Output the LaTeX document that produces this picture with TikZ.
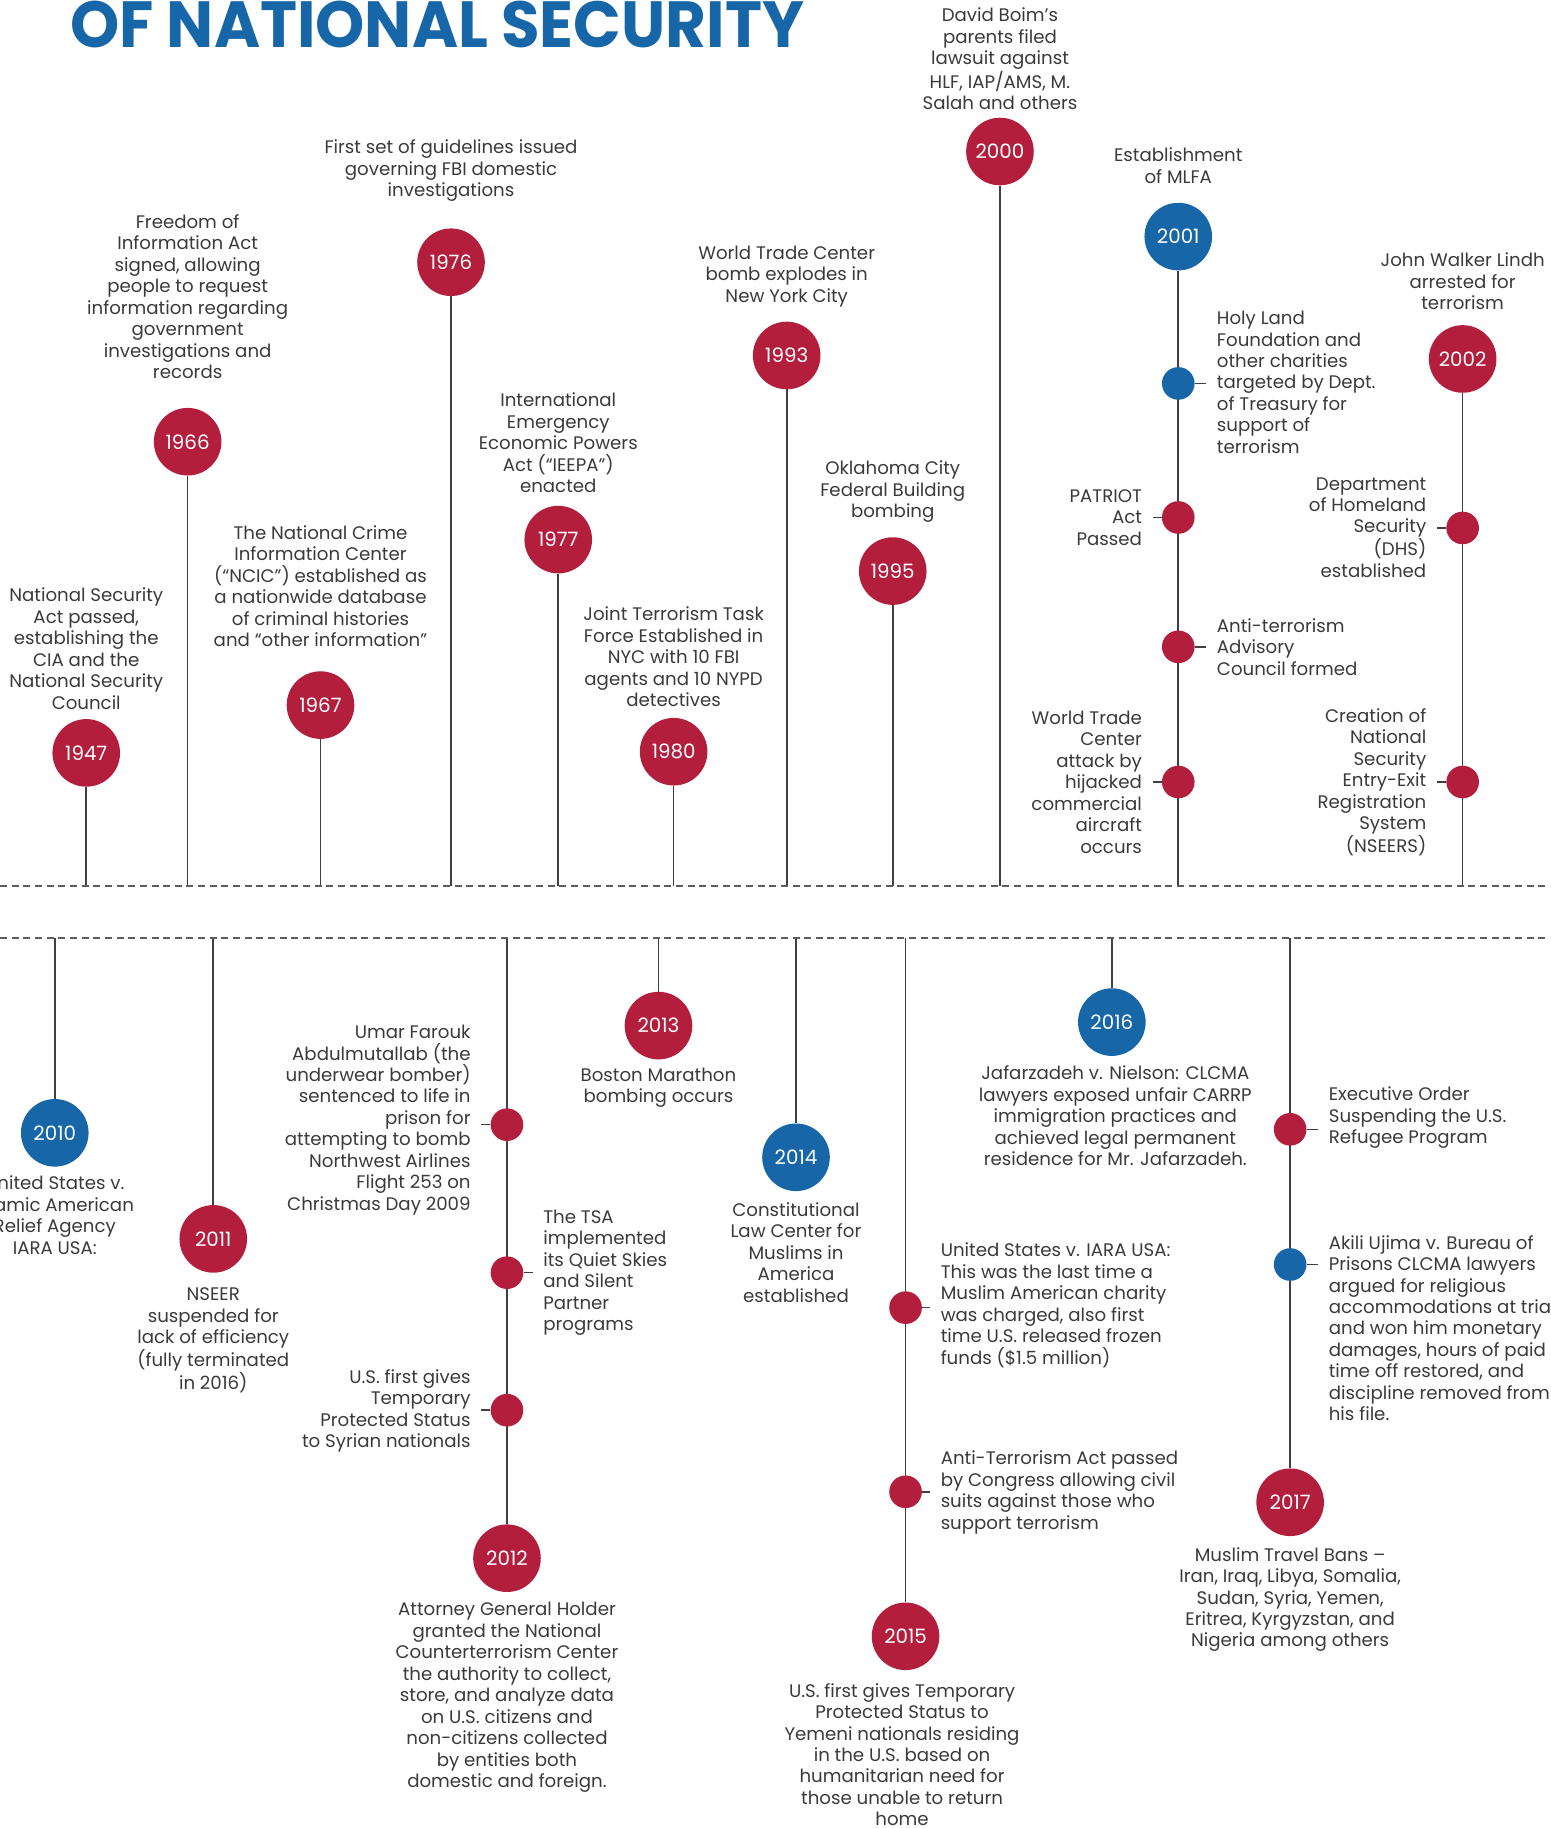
\documentclass[tikz,border=0pt]{standalone}
\usepackage{fontspec}
\setmainfont{Poppins}
\newfontfamily\titlefont{Poppins}[FakeStretch=0.96]
\usetikzlibrary{backgrounds}
\definecolor{natred}{HTML}{B31E3C}
\definecolor{natblue}{HTML}{1666A8}
\definecolor{textgray}{HTML}{3A3A3A}
\definecolor{linegray}{HTML}{404040}
\begin{document}
\begin{tikzpicture}[x=1pt,y=-1pt,
    year/.style={circle,fill=natred,text=white,minimum size=58pt,inner sep=0pt,font=\fontsize{17}{17}\selectfont},
    blueyear/.style={year,fill=natblue},
    dot/.style={circle,fill=natred,minimum size=28pt,inner sep=0pt},
    bluedot/.style={dot,fill=natblue},
    event/.style={align=center,text=textgray,inner sep=0pt,font=\fontsize{15.6}{18.4}\selectfont},
    eventL/.style={event,align=right,anchor=east,inner xsep=9pt},
    eventR/.style={event,align=left,anchor=west,inner xsep=9pt},
    stem/.style={draw=linegray,line width=1.4pt},
    timeline/.style={draw=linegray!85,line width=1.5pt,dash pattern=on 6pt off 4pt}]
    \useasboundingbox (0,0) rectangle (1330,1568.5);
    \node[anchor=base west,inner sep=0pt,text=natblue,font=\titlefont\bfseries\fontsize{56}{56}\selectfont] (title) at (60,41) {OF NATIONAL SECURITY};
    % the two dashed lines
    \coordinate (tl) at (0,760);
    \coordinate (tr) at (1330,760);
    \coordinate (bl) at (0,805);
    \coordinate (br) at (1330,805);
    \draw[timeline] (tl) -- (tr);
    \draw[timeline] (bl) -- (br);
    % top row
    \node[year] (y1947) at (74,646) {1947};
    \node[event] (t1947) at (74,556.5) {National Security\\Act passed,\\establishing the\\CIA and the\\National Security\\Council};
    \node[year] (y1966) at (161,379) {1966};
    \node[event] (t1966) at (161,254.5) {Freedom of\\Information Act\\signed, allowing\\people to request\\information regarding\\government\\investigations and\\records};
    \node[year] (y1967) at (275,605) {1967};
    \node[event] (t1967) at (275,503) {The National Crime\\Information Center\\(“NCIC”) established as\\a nationwide database\\of criminal histories\\and “other information”};
    \node[year] (y1976) at (387,225) {1976};
    \node[event] (t1976) at (387,146.5) {First set of guidelines issued\\governing FBI domestic\\investigations};
    \node[year] (y1977) at (479,463) {1977};
    \node[event] (t1977) at (479,380) {International\\Emergency\\Economic Powers\\Act (“IEEPA”)\\enacted};
    \node[year] (y1980) at (578,645) {1980};
    \node[event] (t1980) at (578,563.5) {Joint Terrorism Task\\Force Established in\\NYC with 10 FBI\\agents and 10 NYPD\\detectives};
    \node[year] (y1993) at (675,305) {1993};
    \node[event] (t1993) at (675,237) {World Trade Center\\bomb explodes in\\New York City};
    \node[year] (y1995) at (766,490) {1995};
    \node[event] (t1995) at (766,422) {Oklahoma City\\Federal Building\\bombing};
    \node[year] (y2000) at (858,130) {2000};
    \node[event] (t2000) at (858,50.5) {David Boim’s\\parents filed\\lawsuit against\\HLF, IAP/AMS, M.\\Salah and others};
    \node[blueyear] (y2001) at (1011,203) {2001};
    \node[event] (t2001) at (1011,142) {Establishment\\of MLFA};
    \node[bluedot] (d2001a) at (1011,329) {};
    \node[eventR] (t2001a) at (1035,328) {Holy Land\\Foundation and\\other charities\\targeted by Dept.\\of Treasury for\\support of\\terrorism};
    \node[dot] (d2001b) at (1011,444) {};
    \node[eventL] (t2001b) at (989,444) {PATRIOT\\Act\\Passed};
    \node[dot] (d2001c) at (1011,555) {};
    \node[eventR] (t2001c) at (1035,555) {Anti-terrorism\\Advisory\\Council formed};
    \node[dot] (d2001d) at (1011,671) {};
    \node[eventL] (t2001d) at (989,671) {World Trade\\Center\\attack by\\hijacked\\commercial\\aircraft\\occurs};
    \node[year] (y2002) at (1255,308) {2002};
    \node[event] (t2002) at (1255,241.5) {John Walker Lindh\\arrested for\\terrorism};
    \node[dot] (d2002a) at (1255,453) {};
    \node[eventL] (t2002a) at (1233,452.5) {Department\\of Homeland\\Security\\(DHS)\\established};
    \node[dot] (d2002b) at (1255,671) {};
    \node[eventL] (t2002b) at (1233,671) {Creation of\\National\\Security\\Entry-Exit\\Registration\\System\\(NSEERS)};
    % bottom row
    \node[blueyear] (y2010) at (47,972) {2010};
    \node[event] (t2010) at (47,1042.5) {United States v.\\Islamic American\\Relief Agency\\IARA USA:};
    \node[year] (y2011) at (183,1063) {2011};
    \node[event] (t2011) at (183,1150) {NSEER\\suspended for\\lack of efficiency\\(fully terminated\\in 2016)};
    \node[year] (y2012) at (435,1337) {2012};
    \node[event] (t2012) at (435,1456.5) {Attorney General Holder\\granted the National\\Counterterrorism Center\\the authority to collect,\\store, and analyze data\\on U.S. citizens and\\non-citizens collected\\by entities both\\domestic and foreign.};
    \node[dot] (d2012a) at (435,965) {};
    \node[eventL] (t2012a) at (413,961) {Umar Farouk\\Abdulmutallab (the\\underwear bomber)\\sentenced to life in\\prison for\\attempting to bomb\\Northwest Airlines\\Flight 253 on\\Christmas Day 2009};
    \node[dot] (d2012b) at (435,1092) {};
    \node[eventR] (t2012b) at (457,1092) {The TSA\\implemented\\its Quiet Skies\\and Silent\\Partner\\programs};
    \node[dot] (d2012c) at (435,1210) {};
    \node[eventL] (t2012c) at (413,1210.5) {U.S. first gives\\Temporary\\Protected Status\\to Syrian nationals};
    \node[year] (y2013) at (565,880) {2013};
    \node[event] (t2013) at (565,933.5) {Boston Marathon\\bombing occurs};
    \node[blueyear] (y2014) at (683,993) {2014};
    \node[event] (t2014) at (683,1074.5) {Constitutional\\Law Center for\\Muslims in\\America\\established};
    \node[year] (y2015) at (777,1404) {2015};
    \node[event] (t2015) at (774,1505.5) {U.S. first gives Temporary\\Protected Status to\\Yemeni nationals residing\\in the U.S. based on\\humanitarian need for\\those unable to return\\home};
    \node[dot] (d2015a) at (777,1122) {};
    \node[eventR] (t2015a) at (798,1120) {United States v. IARA USA:\\This was the last time a\\Muslim American charity\\was charged, also first\\time U.S. released frozen\\funds (\$1.5 million)};
    \node[dot] (d2015b) at (777,1280) {};
    \node[eventR] (t2015b) at (798,1280.5) {Anti-Terrorism Act passed\\by Congress allowing civil\\suits against those who\\support terrorism};
    \node[blueyear] (y2016) at (954,877) {2016};
    \node[event] (t2016) at (957,957.5) {Jafarzadeh v. Nielson: CLCMA\\lawyers exposed unfair CARRP\\immigration practices and\\achieved legal permanent\\residence for Mr. Jafarzadeh.};
    \node[year] (y2017) at (1107,1289) {2017};
    \node[event] (t2017) at (1107,1372.5) {Muslim Travel Bans –\\Iran, Iraq, Libya, Somalia,\\Sudan, Syria, Yemen,\\Eritrea, Kyrgyzstan, and\\Nigeria among others};
    \node[dot] (d2017a) at (1107,969) {};
    \node[eventR] (t2017a) at (1131,959) {Executive Order\\Suspending the U.S.\\Refugee Program};
    \node[bluedot] (d2017b) at (1107,1085) {};
    \node[eventR] (t2017b) at (1131,1139.5) {Akili Ujima v. Bureau of\\Prisons CLCMA lawyers\\argued for religious\\accommodations at trial\\and won him monetary\\damages, hours of paid\\time off restored, and\\discipline removed from\\his file.};
    % stems and ticks behind the circles
    \begin{scope}[on background layer]
        \foreach \y in {1947,1966,1967,1976,1977,1980,1993,1995,2000,2001,2002}
            \draw[stem] (y\y) -- (y\y |- tl);
        \foreach \y in {2010,2011,2012,2013,2014,2015,2016,2017}
            \draw[stem] (y\y |- bl) -- (y\y);
        \draw[stem] (d2001a) -- (d2001a -| t2001a.west);
        \draw[stem] (d2001b) -- (d2001b -| t2001b.east);
        \draw[stem] (d2001c) -- (d2001c -| t2001c.west);
        \draw[stem] (d2001d) -- (d2001d -| t2001d.east);
        \draw[stem] (d2002a) -- (d2002a -| t2002a.east);
        \draw[stem] (d2002b) -- (d2002b -| t2002b.east);
        \draw[stem] (d2012a) -- (d2012a -| t2012a.east);
        \draw[stem] (d2012b) -- (d2012b -| t2012b.west);
        \draw[stem] (d2012c) -- (d2012c -| t2012c.east);
        \draw[stem] (d2015a) -- (d2015a -| t2015a.west);
        \draw[stem] (d2015b) -- (d2015b -| t2015b.west);
        \draw[stem] (d2017a) -- (d2017a -| t2017a.west);
        \draw[stem] (d2017b) -- (d2017b -| t2017b.west);
    \end{scope}
\end{tikzpicture}
\end{document}
